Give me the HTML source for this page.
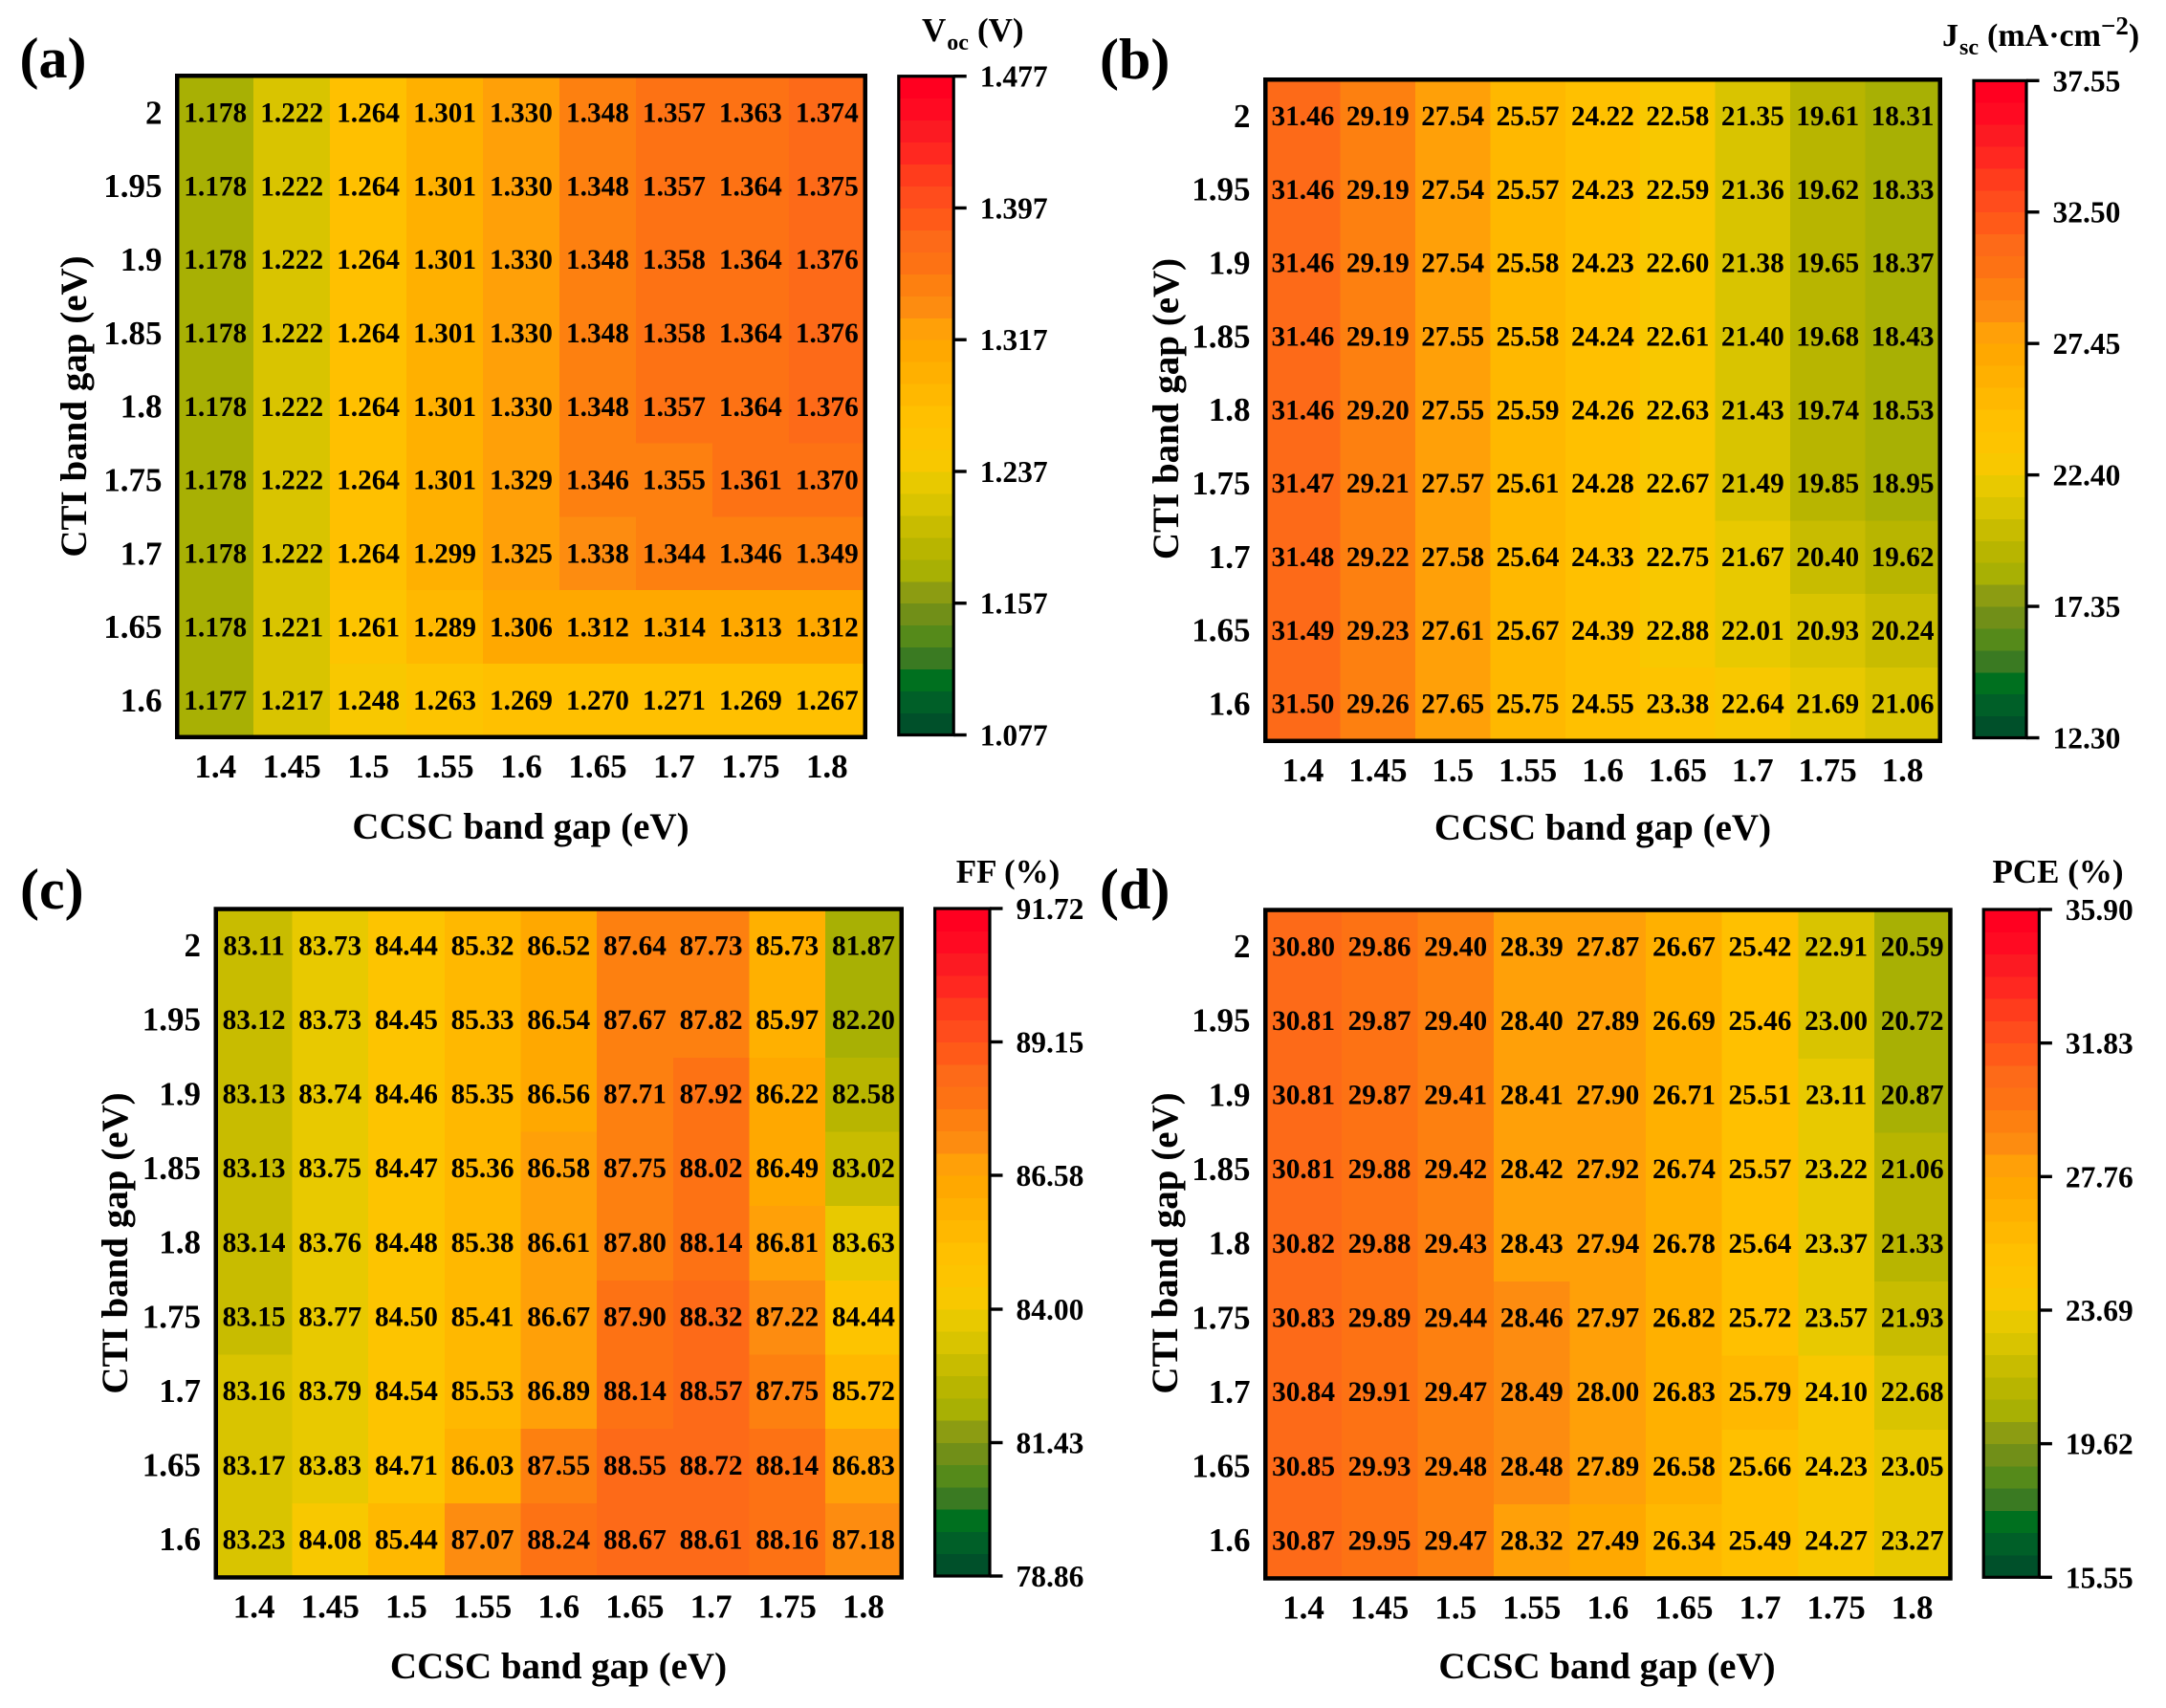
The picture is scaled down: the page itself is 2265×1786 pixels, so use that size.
<!DOCTYPE html>
<html lang="en">
<head>
<meta charset="utf-8">
<title>Band gap heatmaps: Voc, Jsc, FF, PCE</title>
<style>
html,body{margin:0;padding:0;background:#fff;}
svg{display:block;}
text{font-family:"Liberation Serif","Times New Roman",serif;font-weight:bold;fill:#000;}
.panel-letter{font-size:60px;}
.axis-title{font-size:39px;text-anchor:middle;}
.cb-title{font-size:35px;}
.sub{font-size:24px;}
.sup{font-size:27px;}
</style>
</head>
<body>
<svg id="figure" xmlns="http://www.w3.org/2000/svg" width="2265" height="1786" viewBox="0 0 2265 1786">
  <rect x="0" y="0" width="2265" height="1786" fill="#ffffff"/>

  <g id="panel-a">
    <text class="panel-letter" x="20.5" y="81">(a)</text>
    <text class="axis-title" x="544.5" y="877">CCSC band gap (eV)</text>
    <text class="axis-title" transform="translate(90,425) rotate(-90)">CTI band gap (eV)</text>
    <text class="cb-title" x="964" y="43">V<tspan class="sub" dx="1" dy="9">oc</tspan><tspan dx="9" dy="-9">(V)</tspan></text>
  </g>

  <g id="panel-b">
    <text class="panel-letter" x="1150" y="82">(b)</text>
    <text class="axis-title" x="1676" y="878">CCSC band gap (eV)</text>
    <text class="axis-title" transform="translate(1232,427.5) rotate(-90)">CTI band gap (eV)</text>
    <text class="cb-title" x="2031" y="48" style="font-size:34px">J<tspan class="sub" dx="1" dy="9">sc</tspan><tspan dx="9" dy="-9">(mA·cm</tspan><tspan class="sup" dy="-12">−2</tspan><tspan dy="12">)</tspan></text>
  </g>

  <g id="panel-c">
    <text class="panel-letter" x="21" y="950">(c)</text>
    <text class="axis-title" x="584" y="1755">CCSC band gap (eV)</text>
    <text class="axis-title" transform="translate(133,1300) rotate(-90)">CTI band gap (eV)</text>
    <text class="cb-title" x="1054" y="923" text-anchor="middle">FF (%)</text>
  </g>

  <g id="panel-d">
    <text class="panel-letter" x="1150" y="950">(d)</text>
    <text class="axis-title" x="1680.5" y="1755">CCSC band gap (eV)</text>
    <text class="axis-title" transform="translate(1231,1300) rotate(-90)">CTI band gap (eV)</text>
    <text class="cb-title" x="2152" y="923" text-anchor="middle">PCE (%)</text>
  </g>
</svg>

<script>
// ---- Data ----
const ccscCategories = ['1.4','1.45','1.5','1.55','1.6','1.65','1.7','1.75','1.8'];
const ctiCategories = ['2','1.95','1.9','1.85','1.8','1.75','1.7','1.65','1.6'];

const vocValues = [
  [1.178,1.222,1.264,1.301,1.330,1.348,1.357,1.363,1.374],
  [1.178,1.222,1.264,1.301,1.330,1.348,1.357,1.364,1.375],
  [1.178,1.222,1.264,1.301,1.330,1.348,1.358,1.364,1.376],
  [1.178,1.222,1.264,1.301,1.330,1.348,1.358,1.364,1.376],
  [1.178,1.222,1.264,1.301,1.330,1.348,1.357,1.364,1.376],
  [1.178,1.222,1.264,1.301,1.329,1.346,1.355,1.361,1.370],
  [1.178,1.222,1.264,1.299,1.325,1.338,1.344,1.346,1.349],
  [1.178,1.221,1.261,1.289,1.306,1.312,1.314,1.313,1.312],
  [1.177,1.217,1.248,1.263,1.269,1.270,1.271,1.269,1.267]
];
const jscValues = [
  [31.46,29.19,27.54,25.57,24.22,22.58,21.35,19.61,18.31],
  [31.46,29.19,27.54,25.57,24.23,22.59,21.36,19.62,18.33],
  [31.46,29.19,27.54,25.58,24.23,22.60,21.38,19.65,18.37],
  [31.46,29.19,27.55,25.58,24.24,22.61,21.40,19.68,18.43],
  [31.46,29.20,27.55,25.59,24.26,22.63,21.43,19.74,18.53],
  [31.47,29.21,27.57,25.61,24.28,22.67,21.49,19.85,18.95],
  [31.48,29.22,27.58,25.64,24.33,22.75,21.67,20.40,19.62],
  [31.49,29.23,27.61,25.67,24.39,22.88,22.01,20.93,20.24],
  [31.50,29.26,27.65,25.75,24.55,23.38,22.64,21.69,21.06]
];
const ffValues = [
  [83.11,83.73,84.44,85.32,86.52,87.64,87.73,85.73,81.87],
  [83.12,83.73,84.45,85.33,86.54,87.67,87.82,85.97,82.20],
  [83.13,83.74,84.46,85.35,86.56,87.71,87.92,86.22,82.58],
  [83.13,83.75,84.47,85.36,86.58,87.75,88.02,86.49,83.02],
  [83.14,83.76,84.48,85.38,86.61,87.80,88.14,86.81,83.63],
  [83.15,83.77,84.50,85.41,86.67,87.90,88.32,87.22,84.44],
  [83.16,83.79,84.54,85.53,86.89,88.14,88.57,87.75,85.72],
  [83.17,83.83,84.71,86.03,87.55,88.55,88.72,88.14,86.83],
  [83.23,84.08,85.44,87.07,88.24,88.67,88.61,88.16,87.18]
];
const pceValues = [
  [30.80,29.86,29.40,28.39,27.87,26.67,25.42,22.91,20.59],
  [30.81,29.87,29.40,28.40,27.89,26.69,25.46,23.00,20.72],
  [30.81,29.87,29.41,28.41,27.90,26.71,25.51,23.11,20.87],
  [30.81,29.88,29.42,28.42,27.92,26.74,25.57,23.22,21.06],
  [30.82,29.88,29.43,28.43,27.94,26.78,25.64,23.37,21.33],
  [30.83,29.89,29.44,28.46,27.97,26.82,25.72,23.57,21.93],
  [30.84,29.91,29.47,28.49,28.00,26.83,25.79,24.10,22.68],
  [30.85,29.93,29.48,28.48,27.89,26.58,25.66,24.23,23.05],
  [30.87,29.95,29.47,28.32,27.49,26.34,25.49,24.27,23.27]
];

const vocTicks = ['1.477','1.397','1.317','1.237','1.157','1.077'];
const jscTicks = ['37.55','32.50','27.45','22.40','17.35','12.30'];
const ffTicks = ['91.72','89.15','86.58','84.00','81.43','78.86'];
const pceTicks = ['35.90','31.83','27.76','23.69','19.62','15.55'];

// ---- Colour scale: 30 discrete bands, low to high ----
const bandColors = [
  '#00502a','#005f28','#00701f','#3a7a22','#558a1a','#718f18',
  '#8c9c12','#a8b004','#b8b500','#c8bc00','#d9c400','#e8c900',
  '#f8c800','#fdc400','#ffc000','#ffb800','#ffb000','#ffa800',
  '#ffa008','#fd8c10','#fd8010','#fd7214','#fd6a18','#ff5a18',
  '#ff4c1c','#ff3c1c','#ff2820','#fc1a22','#ff0a22','#ff0020'
];

// ---- Panel layout ----
const panels = [
  {id:'a', values:vocValues, ticks:vocTicks, decimals:3, labelOffset:0, colorFloorNudge:0,
   left:183, right:907, top:77, bottom:773,
   cbLeft:939.8, cbRight:997.2, cbTop:79.7, cbBottom:768.5},
  {id:'b', values:jscValues, ticks:jscTicks, decimals:2, labelOffset:-0.5, colorFloorNudge:0,
   left:1321, right:2031, top:81, bottom:777,
   cbLeft:2064, cbRight:2119, cbTop:84.3, cbBottom:771.5},
  {id:'c', values:ffValues, ticks:ffTicks, decimals:2, labelOffset:-1, colorFloorNudge:0.01,
   left:223.5, right:945, top:948.3, bottom:1651.7,
   cbLeft:977.6, cbRight:1035, cbTop:950, cbBottom:1648},
  {id:'d', values:pceValues, ticks:pceTicks, decimals:2, labelOffset:-1, colorFloorNudge:0,
   left:1321, right:2041.7, top:949.3, bottom:1652.7,
   cbLeft:2074.2, cbRight:2132.4, cbTop:951, cbBottom:1649.3}
];

const SVG_NS = 'http://www.w3.org/2000/svg';
const BORDER = 4.5;

function make(tag, attrs, parent) {
  const el = document.createElementNS(SVG_NS, tag);
  for (const k in attrs) el.setAttribute(k, attrs[k]);
  parent.appendChild(el);
  return el;
}

function drawPanel(p) {
  const root = document.getElementById('panel-' + p.id);

  // The grid runs to the centre of the frame line, as in the reference
  const gridL = p.left + BORDER / 2, gridR = p.right - BORDER / 2;
  const gridT = p.top + BORDER / 2, gridB = p.bottom - BORDER / 2;
  const colW = (gridR - gridL) / ccscCategories.length;
  const rowH = (gridB - gridT) / ctiCategories.length;

  // Axis functions
  const xBand = i => gridL + i * colW;
  const yBand = i => gridT + i * rowH;
  const xCenter = i => xBand(i) + colW / 2;
  const yCenter = i => yBand(i) + rowH / 2 + p.labelOffset;

  const tickNums = p.ticks.map(parseFloat);
  const vMax = Math.max(...tickNums);
  const vMin = Math.min(...tickNums);
  const cbY = v => p.cbBottom - (v - vMin) / (vMax - vMin) * (p.cbBottom - p.cbTop);
  const colorOf = v => {
    const low = vMin + p.colorFloorNudge;
    const f = (v - low) / (vMax - low);
    const idx = Math.floor(f * bandColors.length + 1e-7);
    return bandColors[Math.max(0, Math.min(bandColors.length - 1, idx))];
  };

  // Heatmap cells
  p.values.forEach((row, r) => {
    row.forEach((v, c) => {
      const cell = make('rect', {
        x: xBand(c), y: yBand(r), width: colW + 0.5, height: rowH + 0.5,
        fill: colorOf(v), 'shape-rendering': 'crispEdges'
      }, root);
      
      
    });
  });

  // Printed cell values
  p.values.forEach((row, r) => {
    row.forEach((v, c) => {
      const t = make('text', {
        x: xCenter(c), y: yCenter(r) + 9.9,
        'text-anchor': 'middle', 'font-size': 29.3
      }, root);
      t.textContent = v.toFixed(p.decimals);
      
      
    });
  });

  // Plot frame
  const frame = make('rect', {
    x: p.left + BORDER / 2, y: p.top + BORDER / 2,
    width: p.right - p.left - BORDER, height: p.bottom - p.top - BORDER,
    fill: 'none', stroke: '#000', 'stroke-width': BORDER
  }, root);
  
  

  // X tick labels
  ccscCategories.forEach((label, i) => {
    const t = make('text', {
      x: xCenter(i), y: p.bottom + 40, 'text-anchor': 'middle', 'font-size': 35
    }, root);
    t.textContent = label;
    
    
  });

  // Y tick labels
  ctiCategories.forEach((label, i) => {
    const t = make('text', {
      x: p.left - 13.5, y: yCenter(i) + 11.6, 'text-anchor': 'end', 'font-size': 35
    }, root);
    t.textContent = label;
    
    
  });

  // Colorbar bands
  const step = (vMax - vMin) / bandColors.length;
  bandColors.forEach((color, i) => {
    const yTop = cbY(vMin + (i + 1) * step);
    const yBot = cbY(vMin + i * step);
    const band = make('rect', {
      x: p.cbLeft, y: yTop, width: p.cbRight - p.cbLeft, height: yBot - yTop + 0.5,
      fill: color, 'shape-rendering': 'crispEdges'
    }, root);
    
    
  });

  const cbFrame = make('rect', {
    x: p.cbLeft, y: p.cbTop, width: p.cbRight - p.cbLeft, height: p.cbBottom - p.cbTop,
    fill: 'none', stroke: '#000', 'stroke-width': 3.2
  }, root);
  
  

  // Colorbar ticks and labels
  p.ticks.forEach((label, i) => {
    const y = cbY(tickNums[i]);
    const tick = make('line', {
      x1: p.cbRight, x2: p.cbRight + 13.5, y1: y, y2: y,
      stroke: '#000', 'stroke-width': 3.4
    }, root);
    
    
    const t = make('text', {
      x: p.cbRight + 27.5, y: y + 11, 'font-size': 31.5
    }, root);
    t.textContent = label;
    
    
  });
}

panels.forEach(drawPanel);
</script>
</body>
</html>
